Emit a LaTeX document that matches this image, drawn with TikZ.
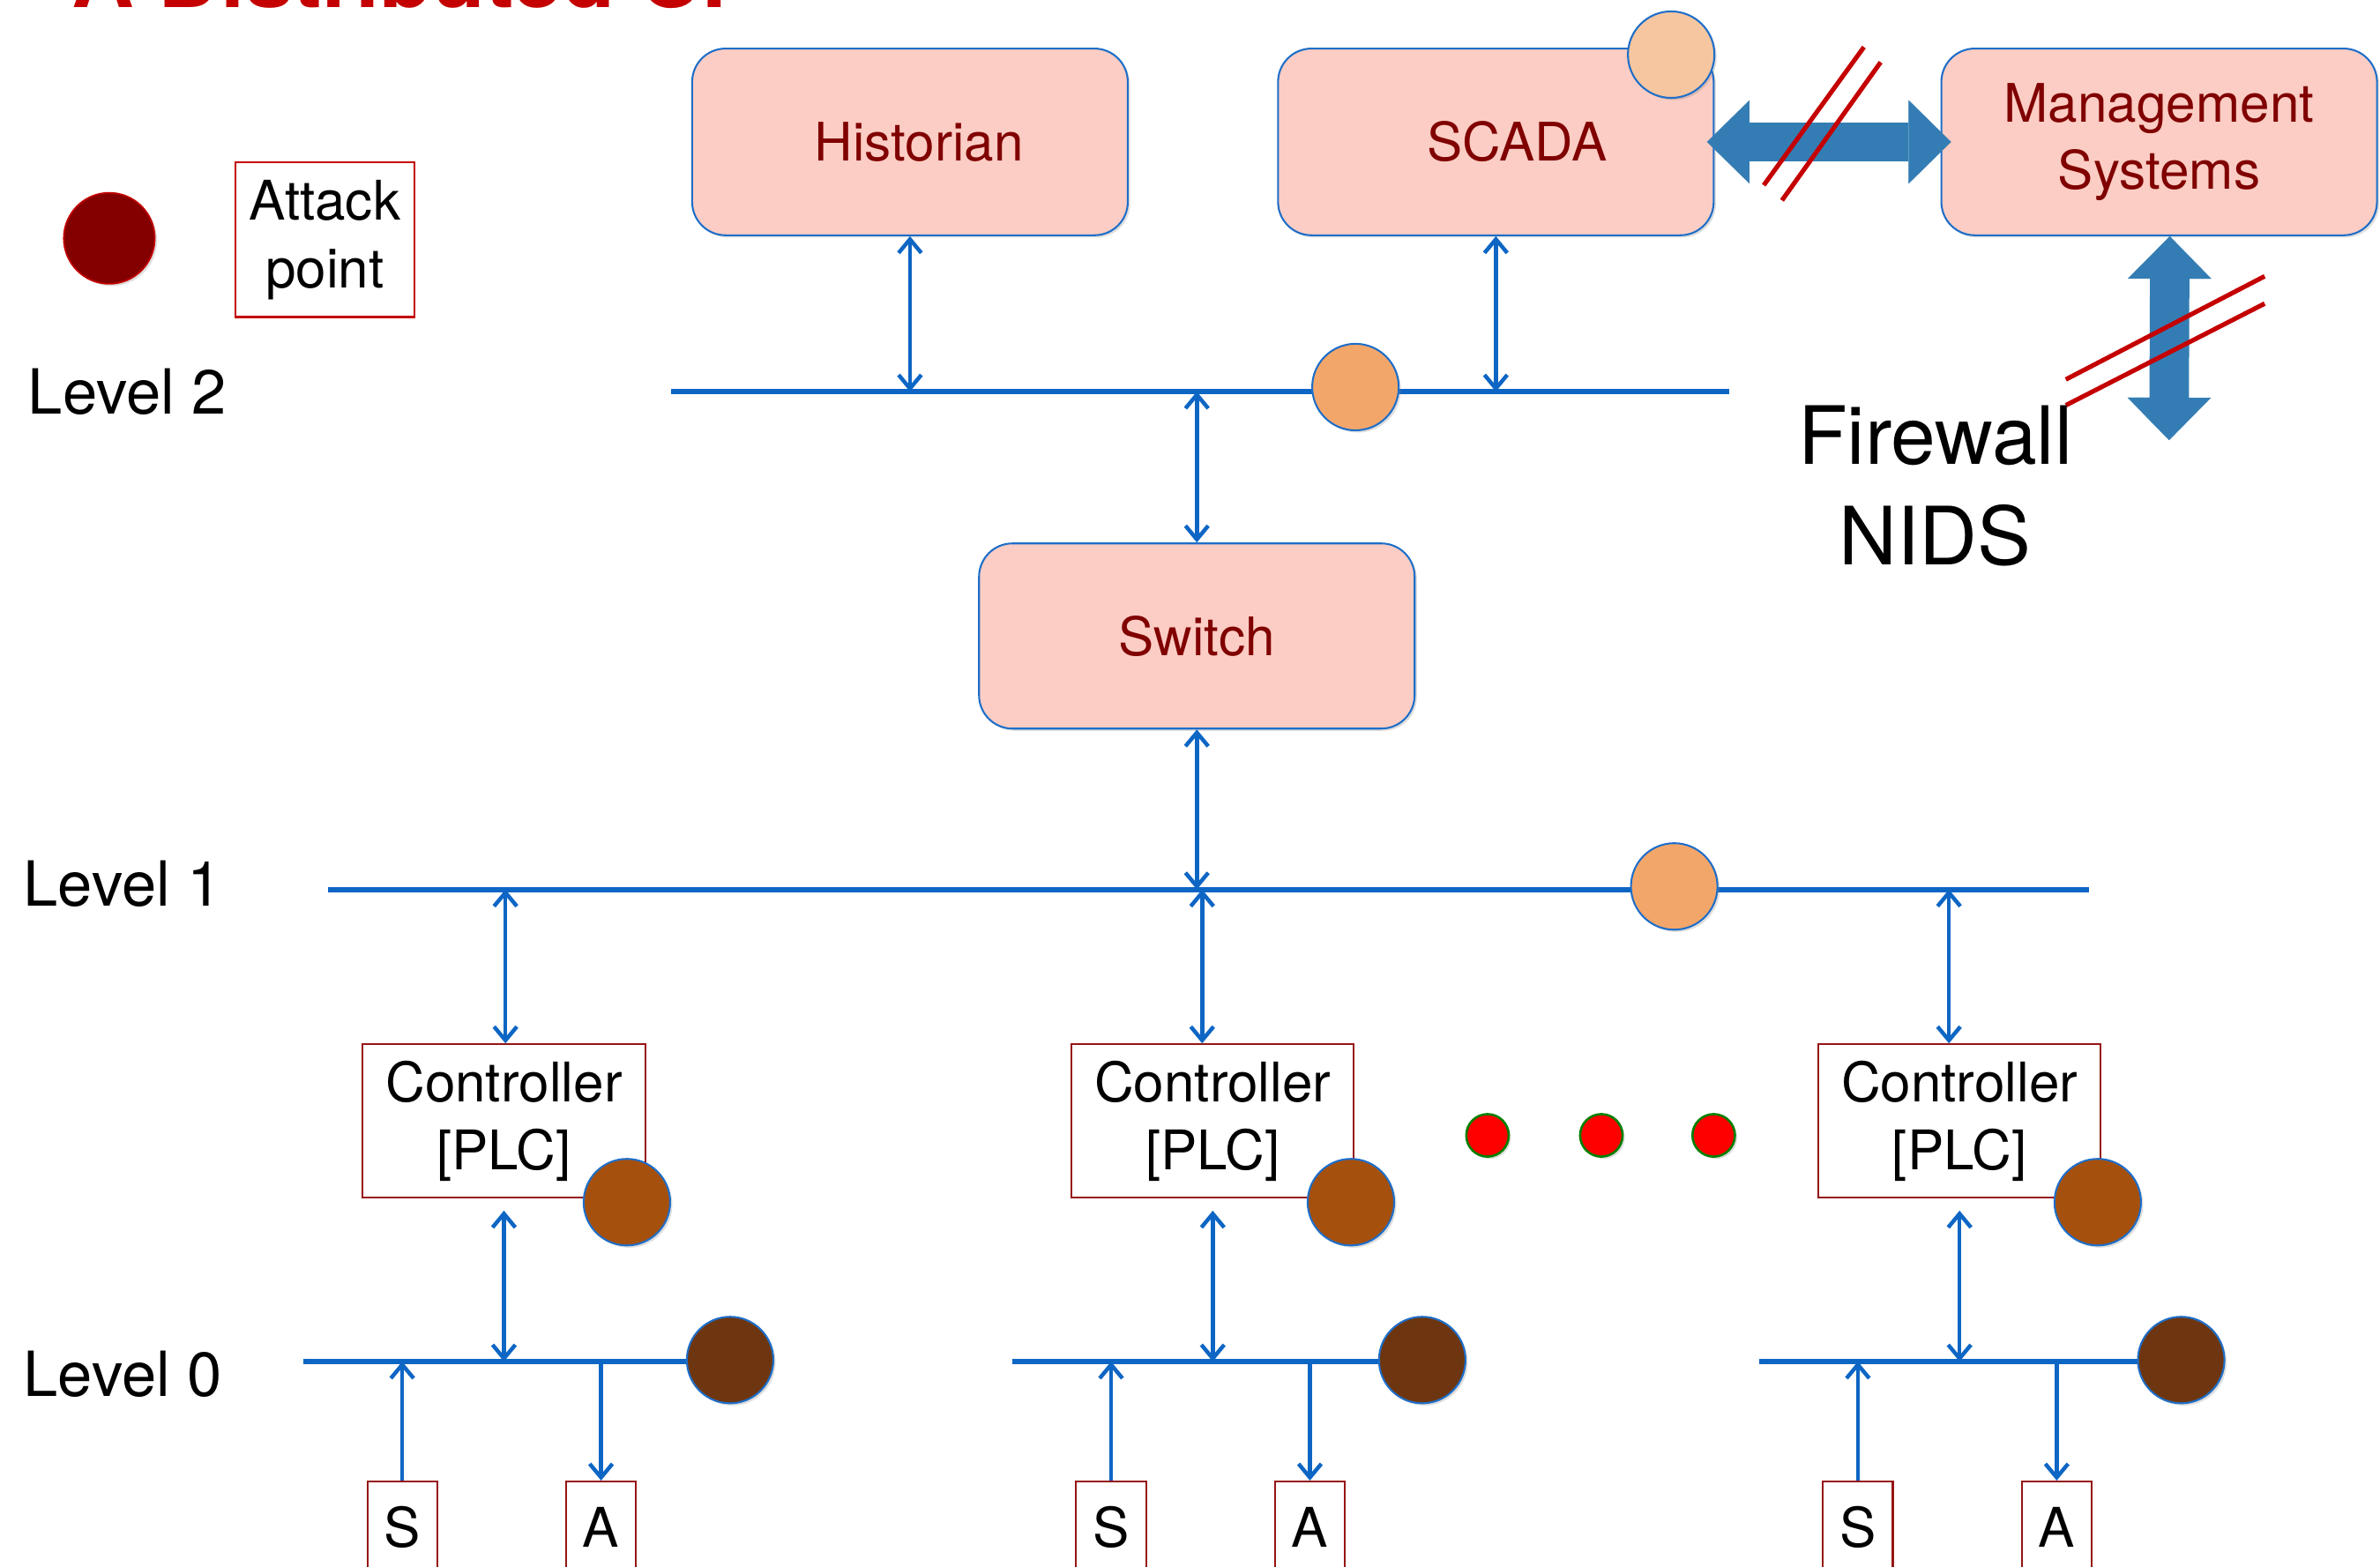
\documentclass[tikz,border=0pt]{standalone}
\usepackage{fontspec}
\setmainfont{TeX Gyre Heros}
\usetikzlibrary{arrows.meta,shadows}

\definecolor{wire}{RGB}{14,102,196}
\definecolor{boxfill}{RGB}{251,205,196}
\definecolor{boxline}{RGB}{30,110,200}
\definecolor{boxtext}{RGB}{128,0,0}
\definecolor{pipeblue}{RGB}{52,125,180}
\definecolor{cut}{RGB}{196,0,0}
\definecolor{peach}{RGB}{246,198,160}
\definecolor{apricot}{RGB}{243,166,106}
\definecolor{rust}{RGB}{166,80,14}
\definecolor{bark}{RGB}{110,54,16}
\definecolor{blood}{RGB}{132,0,0}
\definecolor{plcline}{RGB}{150,20,20}

\tikzset{
        soft/.style={drop shadow={opacity=0.25, shadow xshift=1.5pt, shadow yshift=-1.5pt}},
        unit/.style={draw=boxline, fill=boxfill, line width=1.2pt, rounded corners=22pt,
                minimum width=287pt, minimum height=123pt, text=boxtext, align=center,
                font=\fontsize{35}{44}\selectfont, soft},
        plc/.style={draw=plcline, fill=white, line width=1.2pt, minimum width=186pt,
                minimum height=101pt, align=center, font=\fontsize{36}{45}\selectfont},
        io/.style={draw=plcline, line width=1.2pt, minimum width=46pt, minimum height=60pt,
                font=\fontsize{36}{43}\selectfont},
        tap/.style={circle, draw=boxline, line width=1.2pt, minimum size=57pt, inner sep=0pt, soft},
        bus/.style={wire, line width=3.5pt},
        link/.style={wire, line width=2.6pt},
        bigpipe/.style={pipeblue, line width=26pt,
                {Triangle[length=28pt,width=55pt,line width=0.1pt]}-{Triangle[length=28pt,width=55pt,line width=0.1pt]}},
        slash/.style={cut, line width=3pt},
        level/.style={anchor=base west, font=\fontsize{41}{49}\selectfont},
}

\begin{document}
\begin{tikzpicture}[x=1pt, y=-1pt, >={Straight Barb[length=9pt,width=15pt]}]
        \useasboundingbox (0,0) rectangle (1568,1032);
        \clip (0,0) rectangle (1568,1032);

        \node[anchor=base west, text=cut, font=\bfseries\fontsize{57}{60}\selectfont] (title) at (44,5) {A Distributed CP};

        % legend
        \node[circle, fill=blood, draw=cut, line width=1pt, minimum size=60pt, inner sep=0pt, soft] (dot) at (72,157) {};
        \node[draw=cut, line width=1.5pt, minimum width=118pt, minimum height=102pt, align=center,
                font=\fontsize{36}{45}\selectfont] (key) at (214,158) {Attack\\point};

        \node[level] (lvtwo) at (15,273) {Level 2};
        \node[level] (lvone) at (12,597) {Level 1};
        \node[level] (lvzero) at (12,920) {Level 0};

        % level 2
        \node[unit] (hist) at (599.5,93.5) {\hspace*{12pt}Historian};
        \node[unit] (scada) at (985.5,93.5) {\hspace*{28pt}SCADA};
        \node[unit] (mgmt) at (1422.5,93.5) {Management\\Systems};
        \node[unit, minimum height=122pt] (switch) at (788.5,419) {Switch};

        \coordinate (bus2w) at (442,258);
        \coordinate (bus2e) at (1139,258);
        \coordinate (bus1w) at (216,586);
        \coordinate (bus1e) at (1376,586);
        \draw[bus] (bus2w) -- (bus2e);
        \draw[bus] (bus1w) -- (bus1e);

        \draw[link, <->] (hist.south) -- (hist.south |- bus2w);
        \draw[link, <->] (scada.south) -- (scada.south |- bus2w);
        \draw[link, <->] (switch.north |- bus2w) -- (switch.north);
        \draw[link, <->] (switch.south) -- (switch.south |- bus1w);

        \node[tap, fill=peach] (scadatap) at (1101,36) {};
        \node[tap, fill=apricot] (bus2tap) at (893,255) {};
        \node[tap, fill=apricot] (bus1tap) at (1103,584) {};

        % firewall links
        \coordinate (fw) at (1429,290);
        \draw[bigpipe, shorten <=-5pt, shorten >=-7pt] (scada.east) -- (mgmt.west);
        \draw[bigpipe] ([xshift=7pt]mgmt.south) -- (fw);
        \draw[slash] (1162,122) -- (1228,31);
        \draw[slash] (1174,132) -- (1239,41);
        \draw[slash] (1361,250) -- (1492,182);
        \draw[slash] (1361,267) -- (1492,200);
        \node[align=center, inner sep=0pt, font=\fontsize{53}{66}\selectfont] (fwtext) at (1275,320) {Firewall\\NIDS};

        % level 1 and level 0
        \foreach \i/\cx/\ux/\rx/\ex in {a/332/333/413/481, b/799/792/890/937, c/1291/1284/1382/1437} {
                \node[plc] (ctrl\i) at (\cx,738.5) {Controller\\{[PLC]}};
                \draw[link, <->] (\ux,586) -- (ctrl\i.north -| \ux,0);
                \coordinate (bus0\i) at ({\cx-132},897);
                \draw[bus] (bus0\i) -- (\ex,897);
                \node[io] (sen\i) at ({\cx-67},1006) {S};
                \node[io] (act\i) at ({\cx+64},1006) {A};
                \draw[link, <->] ([yshift=-8pt]ctrl\i.south) -- (ctrl\i.south |- bus0\i);
                \draw[link, ->] (sen\i.north) -- (sen\i.north |- bus0\i);
                \draw[link, ->] (act\i.north |- bus0\i) -- (act\i.north);
                \node[tap, fill=rust] (plctap\i) at (\rx,792) {};
                \node[tap, fill=bark] (fieldtap\i) at (\ex,896) {};
        }

        \foreach \x [count=\n] in {980,1055,1129}
                \node[circle, fill=red, draw=green!50!black, line width=1.5pt, minimum size=28pt,
                        inner sep=0pt, soft] (more\n) at (\x,748) {};
\end{tikzpicture}
\end{document}
